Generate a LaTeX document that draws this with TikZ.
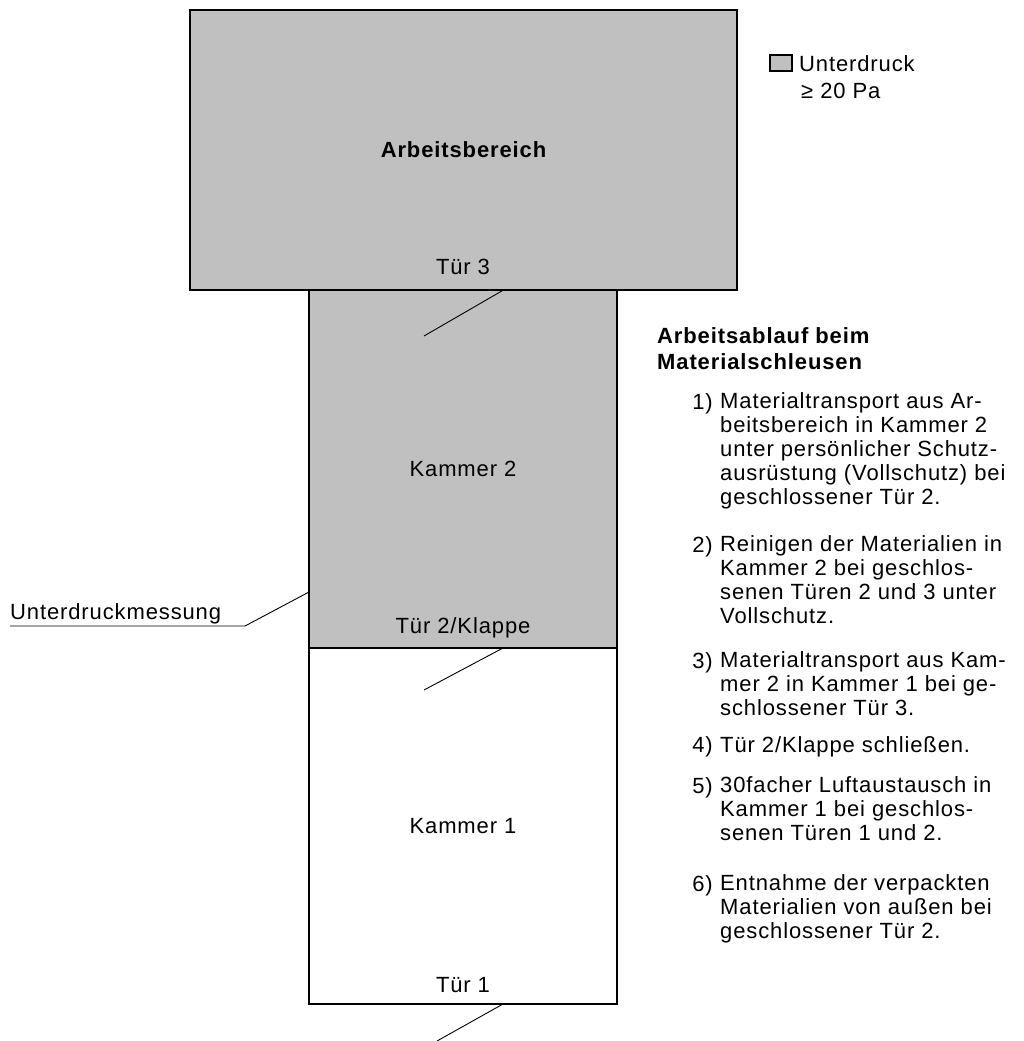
\documentclass[tikz,border=0pt]{standalone}
\usepackage{fontspec}
\setmainfont{Liberation Sans}[LetterSpace=4]
\usetikzlibrary{positioning}
\definecolor{raumgrau}{RGB}{192,192,192}
\newcommand{\listfont}{\fontsize{22}{24}\selectfont}
\tikzset{
  raum/.style={draw, line width=1.6pt, fill=raumgrau, inner sep=0pt, outer sep=0pt, font=\listfont},
  tuer/.style={font=\listfont, inner sep=0pt},
  schwenk/.style={line width=0.9pt},
  schritt/.style={anchor=north west, align=left, inner sep=0pt, font=\listfont, execute at begin node=\strut},
  nummer/.style={anchor=north east, inner sep=0pt, font=\listfont, execute at begin node=\strut}
}
\begin{document}
\begin{tikzpicture}[x=1pt, y=-1pt]
\useasboundingbox (0,0) rectangle (1023,1041);
% Raeume der Schleuse
\node[raum, minimum width=547pt, minimum height=280pt, font=\listfont\bfseries] (ab) at (463.5,150) {Arbeitsbereich};
\node[raum, minimum width=308pt, minimum height=358pt] (k2) at (463,469) {Kammer 2};
\node[raum, fill=white, minimum width=308pt, minimum height=356pt] (k1) at (463,826) {Kammer 1};
% Tueren
\node[tuer, anchor=base] (t3) at (463,274) {Tür 3};
\node[tuer, anchor=base] (t2) at (463,633) {Tür 2/Klappe};
\node[tuer, anchor=base] (t1) at (463,992) {Tür 1};
\coordinate (t3e) at (424,336);
\coordinate (t2e) at (424,690);
\coordinate (t1e) at (437,1041);
\draw[schwenk] ([xshift=40pt]ab.south) -- (t3e);
\draw[schwenk] ([xshift=40pt]k2.south) -- (t2e);
\draw[schwenk] ([xshift=40pt]k1.south) -- (t1e);
% Messstelle
\node[tuer, anchor=base west] (mess) at (10,619) {Unterdruckmessung};
\coordinate (knick) at (245,626);
\draw[schwenk] ([yshift=-7pt]mess.base west) -- (knick) -- ([yshift=-302pt]k2.north west);
% Legende
\node[raum, line width=1.2pt, minimum width=22pt, minimum height=16pt] (leg) at (781,63) {};
\node[tuer, anchor=base west] (ud) at (799,71) {Unterdruck};
\node[tuer, anchor=base west] (pa) at (801,98) {≥ 20 Pa};
% Arbeitsablauf
\node[schritt, font=\fontsize{22}{26}\selectfont\bfseries] (kopf) at (657,327.8) {Arbeitsablauf beim\\Materialschleusen};
\node[schritt] (s1) at (720,392.2) {Materialtransport aus Ar-\\beitsbereich in Kammer 2\\unter persönlicher Schutz-\\ausrüstung (Vollschutz) bei\\geschlossener Tür 2.};
\node[schritt] (s2) at (720,535.2) {Reinigen der Materialien in\\Kammer 2 bei geschlos-\\senen Türen 2 und 3 unter\\Vollschutz.};
\node[schritt] (s3) at (720,651.2) {Materialtransport aus Kam-\\mer 2 in Kammer 1 bei ge-\\schlossener Tür 3.};
\node[schritt] (s4) at (720,735.2) {Tür 2/Klappe schließen.};
\node[schritt] (s5) at (720,776.2) {30facher Luftaustausch in\\Kammer 1 bei geschlos-\\senen Türen 1 und 2.};
\node[schritt] (s6) at (720,874.2) {Entnahme der verpackten\\Materialien von außen bei\\geschlossener Tür 2.};
\node[nummer] (n1) at ([xshift=-7pt]s1.north west) {1)};
\node[nummer] (n2) at ([xshift=-7pt]s2.north west) {2)};
\node[nummer] (n3) at ([xshift=-7pt]s3.north west) {3)};
\node[nummer] (n4) at ([xshift=-7pt]s4.north west) {4)};
\node[nummer] (n5) at ([xshift=-7pt]s5.north west) {5)};
\node[nummer] (n6) at ([xshift=-7pt]s6.north west) {6)};
\end{tikzpicture}
\end{document}
